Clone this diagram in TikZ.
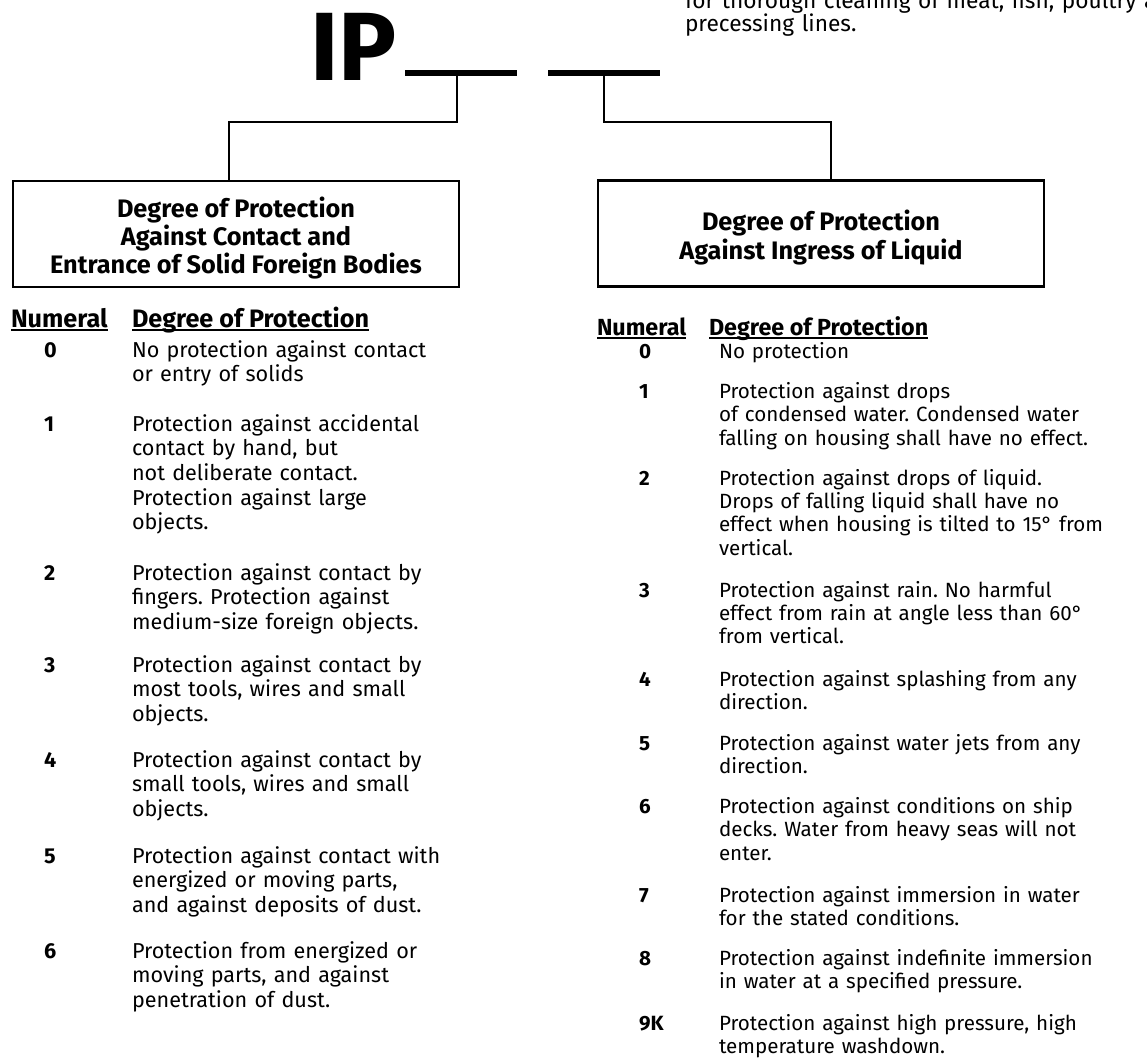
\documentclass[tikz,border=0pt]{standalone}
\usepackage{fontspec}
\setmainfont{Fira Sans}
\frenchspacing
\begin{document}
\begin{tikzpicture}[x=1pt,y=-1pt,
  every node/.style={inner sep=0pt, outer sep=0pt},
  bodyL/.style={font=\fontsize{21.6}{24.7}\selectfont, anchor=base west, align=left, text width=400pt},
  bodyR/.style={font=\fontsize{20.6}{23.4}\selectfont, anchor=base west, align=left, text width=470pt},
  noteR/.style={font=\fontsize{22.7}{23.4}\selectfont, anchor=base west, align=left, text width=600pt},
  numL/.style={font=\fontsize{21.6}{24.7}\selectfont\bfseries, anchor=base west},
  numR/.style={font=\fontsize{20.6}{23.4}\selectfont\bfseries, anchor=base west},
  hdrL/.style={font=\fontsize{25.2}{28}\selectfont\bfseries, anchor=base west},
  hdrR/.style={font=\fontsize{23.3}{28}\selectfont\bfseries, anchor=base west},
  titlebox/.style={draw, line width=2.6pt, minimum width=446pt, minimum height=106pt},
  titletext/.style={align=center, font=\fontsize{25.3}{28.3}\selectfont\bfseries},
  conn/.style={line width=2.2pt},
  bar/.style={fill=black, minimum width=112pt, minimum height=6.5pt},
  uline/.style={line width=1.7pt}
]
\useasboundingbox (0,0) rectangle (1147,1057);
\clip (0,0) rectangle (1147,1057);

% title
\node[font=\fontsize{97}{97}\selectfont\bfseries, anchor=base west] (ip) at (310,80) {IP};
\node[bar] (bar1) at (461,73) {};
\node[bar] (bar2) at (604,73) {};

% note (cut off at top)
\node[noteR] (note) at (685,8.3) {for thorough cleaning of meat, fish, poultry and\\precessing lines.};

% boxes
\node[titlebox] (lbox) at (236,234) {};
\node[titlebox] (rbox) at (821,233.5) {};
\node[titletext] (lt) at ([yshift=-4pt]lbox.center) {Degree of Protection\\Against Contact and\\Entrance of Solid Foreign Bodies};
\node[titletext] (rt) at ([yshift=-4pt]rbox.center) {Degree of Protection\\Against Ingress of Liquid};

% connectors
\coordinate (jl) at (229,122);
\coordinate (jr) at (831,122);
\draw[conn] ([xshift=-4pt]bar1.south) |- (jl) -- (jl |- lbox.north);
\draw[conn] (bar2.south) |- (jr) -- (jr |- rbox.north);

% left headers
\node[hdrL] (hnl) at (11,327) {Numeral};
\node[hdrL] (hdl) at (132,327) {Degree of Protection};
\draw[uline] ([yshift=-3pt]hnl.base west) -- ([yshift=-3pt]hnl.base east);
\draw[uline] ([yshift=-3pt]hdl.base west) -- ([yshift=-3pt]hdl.base east);

% right headers
\node[hdrR] (hnr) at (597,335) {Numeral};
\node[hdrR] (hdr) at (709,335) {Degree of Protection};
\draw[uline] ([yshift=-3pt]hnr.base west) -- ([yshift=-3pt]hnr.base east);
\draw[uline] ([yshift=-3pt]hdr.base west) -- ([yshift=-3pt]hdr.base east);

% left column
\node[numL] (ln0) at (44,357) {0};
\node[bodyL]  (ld0) at (132,357) {No protection against contact\\or entry of solids};
\node[numL] (ln1) at (44,431) {1};
\node[bodyL]  (ld1) at (132,431) {Protection against accidental\\contact by hand, but\\not deliberate contact.\\Protection against large\\objects.};
\node[numL] (ln2) at (44,580) {2};
\node[bodyL]  (ld2) at (132,580) {Protection against contact by\\fingers. Protection against\\medium-size foreign objects.};
\node[numL] (ln3) at (44,672) {3};
\node[bodyL]  (ld3) at (132,672) {Protection against contact by\\most tools, wires and small\\objects.};
\node[numL] (ln4) at (44,767) {4};
\node[bodyL]  (ld4) at (132,767) {Protection against contact by\\small tools, wires and small\\objects.};
\node[numL] (ln5) at (44,863) {5};
\node[bodyL]  (ld5) at (132,863) {Protection against contact with\\energized or moving parts,\\and against deposits of dust.};
\node[numL] (ln6) at (44,958) {6};
\node[bodyL]  (ld6) at (132,958) {Protection from energized or\\moving parts, and against\\penetration of dust.};

% right column
\node[numR] (rn0) at (639,358) {0};
\node[bodyR]  (rd0) at (719,358) {No protection};
\node[numR] (rn1) at (639,398.5) {1};
\node[bodyR]  (rd1) at (719,398.5) {Protection against drops\\of condensed water. Condensed water\\falling on housing shall have no effect.};
\node[numR] (rn2) at (639,485) {2};
\node[bodyR]  (rd2) at (719,485) {Protection against drops of liquid.\\Drops of falling liquid shall have no\\effect when housing is tilted to 15° from\\vertical.};
\node[numR] (rn3) at (639,597) {3};
\node[bodyR]  (rd3) at (719,597) {Protection against rain. No harmful\\effect from rain at angle less than 60°\\from vertical.};
\node[numR] (rn4) at (639,686) {4};
\node[bodyR]  (rd4) at (719,686) {Protection against splashing from any\\direction.};
\node[numR] (rn5) at (639,750) {5};
\node[bodyR]  (rd5) at (719,750) {Protection against water jets from any\\direction.};
\node[numR] (rn6) at (639,813.5) {6};
\node[bodyR]  (rd6) at (719,813.5) {Protection against conditions on ship\\decks. Water from heavy seas will not\\enter.};
\node[numR] (rn7) at (639,902) {7};
\node[bodyR]  (rd7) at (719,902) {Protection against immersion in water\\for the stated conditions.};
\node[numR] (rn8) at (639,965) {8};
\node[bodyR]  (rd8) at (719,965) {Protection against indefinite immersion\\in water at a specified pressure.};
\node[numR] (rn9) at (639,1030) {9K};
\node[bodyR]  (rd9) at (719,1030) {Protection against high pressure, high\\temperature washdown.};
\end{tikzpicture}
\end{document}
